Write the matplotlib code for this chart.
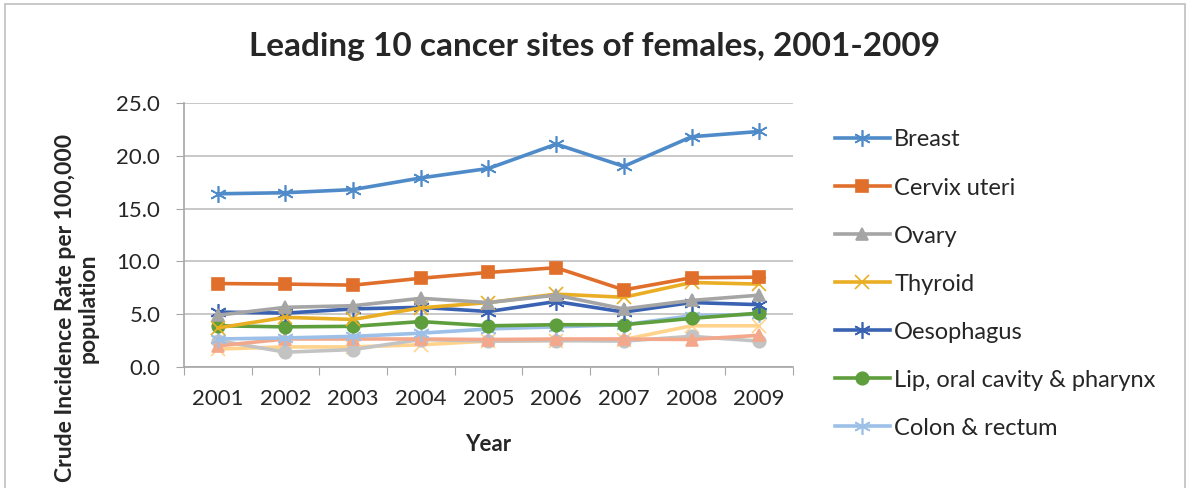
import matplotlib.pyplot as plt
from matplotlib.patches import Rectangle
import numpy as np

plt.rcParams['font.family'] = ['Lato', 'DejaVu Sans']

years = ["2001", "2002", "2003", "2004", "2005", "2006", "2007", "2008", "2009"]

breast = [16.4, 16.5, 16.8, 17.9, 18.8, 21.1, 19.0, 21.8, 22.3]
cervix = [7.9, 7.85, 7.75, 8.4, 8.95, 9.4, 7.3, 8.45, 8.5]
ovary = [4.9, 5.65, 5.8, 6.5, 6.1, 6.8, 5.5, 6.3, 6.8]
thyroid = [3.7, 4.7, 4.5, 5.6, 6.1, 6.9, 6.6, 8.0, 7.85]
oesophagus = [5.2, 5.1, 5.5, 5.65, 5.25, 6.2, 5.2, 6.1, 5.9]
lip_oral = [3.9, 3.8, 3.85, 4.3, 3.9, 4.0, 4.0, 4.6, 5.1]
colon = [2.65, 2.75, 2.9, 3.2, 3.6, 3.8, 4.0, 4.85, 5.0]
series8 = [2.0, 2.65, 2.65, 2.65, 2.6, 2.65, 2.65, 2.6, 3.0]
series9 = [2.5, 1.4, 1.65, 2.6, 2.45, 2.5, 2.45, 2.9, 2.45]
series10 = [1.7, 1.9, 1.9, 2.1, 2.45, 2.5, 2.6, 3.9, 3.9]

names = ["Breast", "Cervix uteri", "Ovary", "Thyroid", "Oesophagus",
         "Lip, oral cavity & pharynx", "Colon & rectum",
         "Corpus uteri", "Lymphoma", "Stomach"]
values = [breast, cervix, ovary, thyroid, oesophagus, lip_oral, colon,
          series8, series9, series10]
colors = ["#4F8BC9", "#E06F2C", "#A5A5A5", "#E9AE23", "#3A62B2",
          "#5E9E3C", "#9CC0E8", "#F3A88C", "#C3C3C3", "#FFD38C"]
markers = ["*", "s", "^", "x", "*", "o", "*", "^", "o", "x"]

fig = plt.figure(figsize=(11.9, 4.88), dpi=100)
ax = fig.add_axes([0.1546, 0.248, 0.5118, 0.541])

x = np.arange(len(years))
handles = []
# draw lower series first so Breast etc. stay on top
for i in range(len(values) - 1, -1, -1):
    m = markers[i]
    ms = 9
    if m == "*":
        m = (6, 2, 0)
        ms = 12
    elif m == "x":
        ms = 10
    ln, = ax.plot(x, values[i], color=colors[i], lw=2.6, marker=m,
                  markersize=ms, markeredgewidth=1.2, label=names[i],
                  markerfacecolor=colors[i], markeredgecolor=colors[i])
    handles.append(ln)
handles = handles[::-1]

ax.set_xlim(-0.5, len(years) - 0.5)
ax.set_ylim(0, 25)
ax.set_yticks(np.arange(0, 25.1, 5))
ax.set_yticklabels([f"{v:.1f}" for v in np.arange(0, 25.1, 5)], fontsize=16,
                   color="#262626")
ax.set_xticks(np.arange(-0.5, len(years), 1))
ax.set_xticklabels([])
ax.set_xticks(x, minor=True)
ax.set_xticklabels(years, minor=True, fontsize=16, color="#262626")
ax.tick_params(axis="x", which="major", length=6, color="#A6A6A6")
ax.tick_params(axis="x", which="minor", length=0, pad=16)
ax.tick_params(axis="y", length=6, color="#A6A6A6", pad=11)
ax.grid(axis="y", color="#BFBFBF", lw=1.2)
ax.set_axisbelow(True)
for s in ["top", "right"]:
    ax.spines[s].set_visible(False)
for s in ["left", "bottom"]:
    ax.spines[s].set_color("#A6A6A6")
    ax.spines[s].set_linewidth(1.2)

ax.set_xlabel("Year", fontsize=16, fontweight="bold", color="#262626")
ax.xaxis.set_label_coords(0.5, -0.253)
ax.set_ylabel("Crude Incidence Rate per 100,000\npopulation", fontsize=16.5,
              fontweight="bold", color="#262626", linespacing=1.1)
ax.yaxis.set_label_coords(-0.14, 0.223)
fig.text(0.5, 0.904, "Leading 10 cancer sites of females, 2001-2009",
         ha="center", va="center", fontsize=24, fontweight="bold",
         color="#262626")

# the legend in the original is cut off after seven entries
fig.legend(handles[:7], names[:7], loc="upper left",
           bbox_to_anchor=(0.694, 0.754), frameon=False, fontsize=17,
           labelspacing=1.145, handlelength=2.3, handletextpad=0.2,
           borderaxespad=0, labelcolor="#262626")

fig.patches.append(Rectangle((0.004, -0.1), 0.992, 1.092, fill=False,
                             edgecolor="#BFBFBF", lw=1.2,
                             transform=fig.transFigure))

fig.savefig("out.png", dpi=100)
